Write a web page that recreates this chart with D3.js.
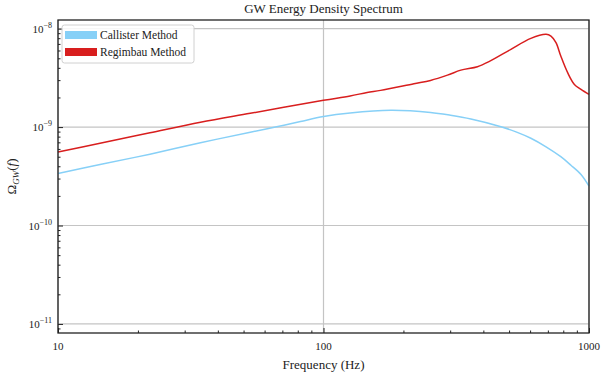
<!DOCTYPE html>
<html>
<head>
<meta charset="utf-8">
<script src="https://cdn.jsdelivr.net/npm/d3@7"></script>
<style>
  body { margin: 0; background: #fff; }
  text { font-family: "Liberation Serif", "DejaVu Serif", serif; fill: #222; }
</style>
</head>
<body>
<svg id="chart"></svg>
<script>
// frequencies (Hz) and spectra
const callisterFreq = [10, 14.4, 22.2, 34.4, 53.0, 65.9, 81.9, 100, 126, 179, 253, 301, 359, 466, 531, 604, 689, 783, 855, 933, 1000];
const callisterOmega = [3.38e-10, 4.16e-10, 5.31e-10, 6.94e-10, 8.86e-10, 1.0e-9, 1.14e-9, 1.28e-9, 1.39e-9, 1.48e-9, 1.41e-9, 1.32e-9, 1.21e-9, 1.01e-9, 8.94e-10, 7.7e-10, 6.3e-10, 5.0e-10, 4.1e-10, 3.3e-10, 2.51e-10];

const regimbauFreq = [10, 14.4, 22.2, 34.4, 53.0, 100, 126, 146, 164, 219, 253, 293, 329, 380, 420, 508, 604, 689, 719, 751, 783, 831, 881, 933, 1000];
const regimbauOmega = [5.57e-10, 6.84e-10, 8.75e-10, 1.12e-9, 1.38e-9, 1.87e-9, 2.07e-9, 2.25e-9, 2.36e-9, 2.76e-9, 2.98e-9, 3.37e-9, 3.79e-9, 4.11e-9, 4.62e-9, 6.17e-9, 7.96e-9, 8.75e-9, 8.41e-9, 7.21e-9, 5.27e-9, 3.57e-9, 2.71e-9, 2.42e-9, 2.15e-9];

const xTicks = [10, 100, 1000];
const yTicks = [1e-11, 1e-10, 1e-9, 1e-8];
const yExponents = ["11", "10", "9", "8"];

const seriesNames = ["Callister Method", "Regimbau Method"];
const seriesColors = ["#87d0f7", "#d81e1e"];

const W = 602, H = 378;
const margin = { top: 20, right: 13, bottom: 45, left: 58 },
      width = W - margin.left - margin.right,
      height = H - margin.top - margin.bottom;

const svgRoot = d3.select("#chart").attr("width", W).attr("height", H);
const svg = svgRoot.append("g")
    .attr("transform", "translate(" + margin.left + "," + margin.top + ")");

const x = d3.scaleLog().domain([10, 1000]).range([0, width]);
const y = d3.scaleLog().domain([Math.pow(10, -11.092), Math.pow(10, -7.912)]).range([height, 0]);

// grid
svg.selectAll(".gx").data(xTicks).enter().append("line")
   .attr("x1", d => x(d)).attr("x2", d => x(d))
   .attr("y1", 0).attr("y2", height)
   .attr("stroke", "#c4c4c4").attr("stroke-width", 1.2);
svg.selectAll(".gy").data(yTicks).enter().append("line")
   .attr("x1", 0).attr("x2", width)
   .attr("y1", d => y(d)).attr("y2", d => y(d))
   .attr("stroke", "#c4c4c4").attr("stroke-width", 1.2);

// lines
const line = d3.line()
    .x(d => x(d[0]))
    .y(d => y(d[1]))
    .curve(d3.curveCatmullRom.alpha(0.5));

const series = [
    d3.zip(callisterFreq, callisterOmega),
    d3.zip(regimbauFreq, regimbauOmega)
];

svg.selectAll(".series").data(series).enter().append("path")
   .attr("d", line)
   .attr("fill", "none")
   .attr("stroke", (d, i) => seriesColors[i])
   .attr("stroke-width", 1.5);

// minor + major ticks, pointing inward
const xMinor = [];
[10, 100].forEach(b => { for (let k = 2; k < 10; k++) xMinor.push(b * k); });
const yMinor = [];
[1e-11, 1e-10, 1e-9].forEach(b => { for (let k = 2; k < 10; k++) yMinor.push(b * k); });
yMinor.push(9e-12);

const xAxis = svg.append("g").attr("transform", `translate(0, ${height})`);
xAxis.call(d3.axisBottom(x).tickValues(xTicks).tickSize(-5).tickFormat(""));
xAxis.append("g").call(d3.axisBottom(x).tickValues(xMinor).tickSize(-2.5).tickFormat(""));
xAxis.selectAll(".domain").remove();

const yAxis = svg.append("g");
yAxis.call(d3.axisLeft(y).tickValues(yTicks).tickSize(-5).tickFormat(""));
yAxis.append("g").call(d3.axisLeft(y).tickValues(yMinor).tickSize(-2.5).tickFormat(""));
yAxis.selectAll(".domain").remove();
svg.selectAll(".tick line").attr("stroke", "#222").attr("stroke-width", 1);

// frame
svg.append("rect")
   .attr("width", width).attr("height", height)
   .attr("fill", "none").attr("stroke", "#222").attr("stroke-width", 1.3);

// tick labels
svg.selectAll(".xl").data(xTicks).enter().append("text")
   .attr("x", d => x(d)).attr("y", height + 17)
   .attr("text-anchor", "middle")
   .style("font-size", "11px")
   .text(d => d);

const yl = svg.selectAll(".yl").data(yTicks).enter().append("text")
   .attr("x", -6).attr("y", d => y(d) + 4)
   .attr("text-anchor", "end")
   .style("font-size", "11px");
yl.append("tspan").text("10");
yl.append("tspan").attr("dy", -5).style("font-size", "8px").text((d, i) => "\u2212" + yExponents[i]);

// titles
svg.append("text")
   .attr("x", width / 2).attr("y", -7)
   .attr("text-anchor", "middle")
   .style("font-size", "13px")
   .text("GW Energy Density Spectrum");

svg.append("text")
   .attr("x", width / 2).attr("y", height + 36)
   .attr("text-anchor", "middle")
   .style("font-size", "13px")
   .text("Frequency (Hz)");

const ylab = svg.append("text")
   .attr("transform", `translate(${-42}, ${height / 2}) rotate(-90)`)
   .attr("text-anchor", "middle")
   .style("font-size", "13px");
ylab.append("tspan").text("Ω");
ylab.append("tspan").attr("dy", 3).style("font-size", "9px").style("font-style", "italic").text("GW");
ylab.append("tspan").attr("dy", -3).text("(");
ylab.append("tspan").style("font-style", "italic").text("f");
ylab.append("tspan").text(")");

// legend
const legend = svg.append("g").attr("transform", "translate(4, 5)");
legend.append("rect")
   .attr("width", 132).attr("height", 38).attr("rx", 2.5)
   .attr("fill", "#fff").attr("fill-opacity", 0.85)
   .attr("stroke", "#d0d0d0").attr("stroke-width", 1);
seriesNames.forEach((name, i) => {
    legend.append("rect")
       .attr("x", 3).attr("y", 6 + i * 17)
       .attr("width", 32).attr("height", 8)
       .attr("fill", seriesColors[i]);
    legend.append("text")
       .attr("x", 38).attr("y", 14 + i * 17)
       .style("font-size", "11.5px")
       .text(name);
});
</script>
</body>
</html>
